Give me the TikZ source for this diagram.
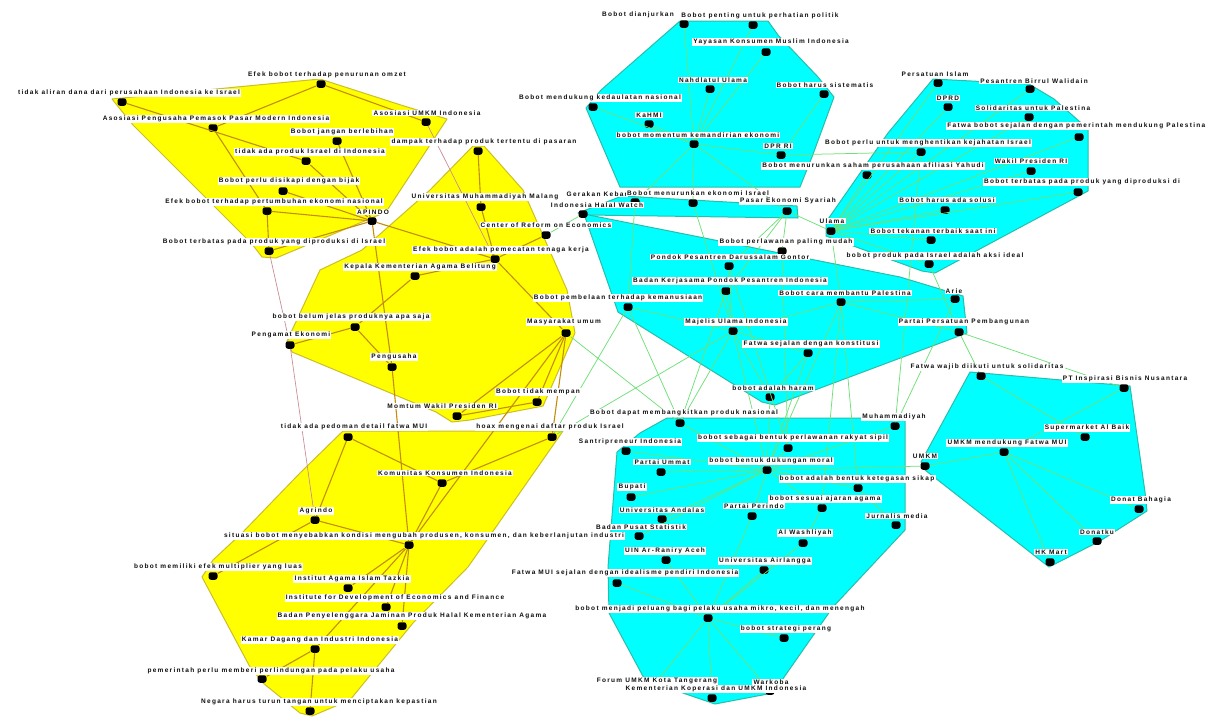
\documentclass[tikz,border=0pt]{standalone}
\usepackage{fontspec}
\setmainfont{Liberation Sans}[LetterSpace=20]
\definecolor{yfillc}{RGB}{255,255,0}
\definecolor{ylinec}{RGB}{205,190,40}
\definecolor{yedgec}{RGB}{195,140,10}
\definecolor{pedgec}{RGB}{200,140,150}
\definecolor{cfillc}{RGB}{0,255,255}
\definecolor{clinec}{RGB}{40,190,170}
\definecolor{gedgec}{RGB}{110,225,120}
\definecolor{txt}{RGB}{15,15,15}
\tikzset{
 vdot/.style={draw=none, fill=black, rounded corners=2.5pt, minimum width=9pt, minimum height=7.5pt, inner sep=0pt},
 lbl/.style={fill=white, inner xsep=1.2pt, inner ysep=1pt, font=\bfseries\fontsize{6.5}{7}\selectfont, text=txt},
 yedge/.style={draw=yedgec, line width=1.1pt},
 pedge/.style={draw=pedgec, line width=0.7pt},
 gedge/.style={draw=gedgec, line width=0.75pt},
 ypoly/.style={fill=yfillc, draw=ylinec, line width=1pt, line join=round},
 cpoly/.style={fill=cfillc, draw=clinec, line width=1pt, line join=round},
}
\begin{document}
\begin{tikzpicture}[x=1pt,y=-1pt]
\useasboundingbox (0,0) rectangle (1211,716);
\clip (0,0) rectangle (1211,716);
% ---------- cluster areas ----------
\path[ypoly] (112,99) -- (320,79) -- (404,106) -- (447,119) -- (386,212) -- (276,258) -- (262,257) -- (252,244) -- (133,125) -- cycle;
\path[ypoly] (473,146) -- (484,146) -- (523,190) -- (567,290) -- (575,333) -- (543,406) -- (470,420) -- (452,422) -- (436,412) -- (292,352) -- (287,341) -- (320,270) -- (362,250) -- (430,190) -- cycle;
\path[ypoly] (343,431) -- (563,431) -- (468,567) -- (413,623) -- (350,700) -- (312,716) -- (300,713) -- (263,683) -- (250,667) -- (202,577) -- (213,560) -- (243,532) -- (300,473) -- cycle;
\path[cpoly] (680,21) -- (768,21) -- (778,35) -- (818,77) -- (834,97) -- (812,157) -- (800,187) -- (620,187) -- (586,108) -- (601,90) -- cycle;
\path[cpoly] (578,213) -- (622,196) -- (797,206) -- (798,218) -- (588,215) -- cycle;
\path[cpoly] (584,214) -- (900,277) -- (963,296) -- (967,333) -- (775,405) -- (762,402) -- (618,312) -- cycle;
\path[cpoly] (933,79) -- (1029,84) -- (1054,99) -- (1088,129) -- (1088,191) -- (935,273) -- (922,271) -- (826,236) -- (826,222) -- (888,133) -- cycle;
\path[cpoly] (970,372) -- (1130,386) -- (1145,492) -- (1147,511) -- (1100,541) -- (1049,567) -- (925,470) -- (921,462) -- cycle;
\path[cpoly] (667,418) -- (905,418) -- (905,530) -- (833,607) -- (773,693) -- (715,704) -- (645,680) -- (609,613) -- (608,567) -- (617,452) -- (640,433) -- cycle;
% ---------- dots ----------
\node[vdot] (y1) at (321,84) {};
\node[vdot] (y2) at (122,102) {};
\node[vdot] (y3) at (213,128) {};
\node[vdot] (y4) at (426,122) {};
\node[vdot] (y5) at (337,141) {};
\node[vdot] (y6) at (306,161) {};
\node[vdot] (y7) at (283,191) {};
\node[vdot] (y8) at (267,211) {};
\node[vdot] (y9) at (372,221) {};
\node[vdot] (y10) at (269,251) {};
\node[vdot] (y11) at (478,151) {};
\node[vdot] (y12) at (481,207) {};
\node[vdot] (y13) at (546,235) {};
\node[vdot] (y14) at (495,259) {};
\node[vdot] (y15) at (415,276) {};
\node[vdot] (y16) at (355,327) {};
\node[vdot] (y17) at (290,345) {};
\node[vdot] (y18) at (392,367) {};
\node[vdot] (y19) at (566,333) {};
\node[vdot] (y20) at (537,402) {};
\node[vdot] (y21) at (457,416) {};
\node[vdot] (y22) at (348,437) {};
\node[vdot] (y23) at (552,437) {};
\node[vdot] (y24) at (442,483) {};
\node[vdot] (y25) at (315,520) {};
\node[vdot] (y26) at (409,545) {};
\node[vdot] (y27) at (213,576) {};
\node[vdot] (y28) at (348,588) {};
\node[vdot] (y29) at (386,607) {};
\node[vdot] (y30) at (402,626) {};
\node[vdot] (y31) at (315,649) {};
\node[vdot] (y32) at (262,679) {};
\node[vdot] (y33) at (310,711) {};
\node[vdot] (c1) at (684,24) {};
\node[vdot] (c2) at (753,25) {};
\node[vdot] (c3) at (766,52) {};
\node[vdot] (c4) at (710,89) {};
\node[vdot] (c5) at (824,94) {};
\node[vdot] (c6) at (593,107) {};
\node[vdot] (c7) at (649,124) {};
\node[vdot] (c8) at (694,144) {};
\node[vdot] (c9) at (781,155) {};
\node[vdot] (c10) at (635,202) {};
\node[vdot] (c11) at (583,214) {};
\node[vdot] (c12) at (693,203) {};
\node[vdot] (c13) at (787,211) {};
\node[vdot] (c14) at (938,83) {};
\node[vdot] (c15) at (1030,89) {};
\node[vdot] (c16) at (948,107) {};
\node[vdot] (c17) at (1029,117) {};
\node[vdot] (c18) at (1079,137) {};
\node[vdot] (c19) at (1031,171) {};
\node[vdot] (c20) at (1078,192) {};
\node[vdot] (c21) at (945,210) {};
\node[vdot] (c22) at (931,240) {};
\node[vdot] (c23) at (929,264) {};
\node[vdot] (c24) at (831,231) {};
\node[vdot] (c25) at (867,175) {};
\node[vdot] (c26) at (921,152) {};
\node[vdot] (c27) at (782,251) {};
\node[vdot] (c28) at (729,266) {};
\node[vdot] (c29) at (726,291) {};
\node[vdot] (c30) at (628,307) {};
\node[vdot] (c31) at (841,302) {};
\node[vdot] (c32) at (955,299) {};
\node[vdot] (c33) at (959,332) {};
\node[vdot] (c34) at (733,331) {};
\node[vdot] (c35) at (808,353) {};
\node[vdot] (c36) at (770,397) {};
\node[vdot] (c37) at (981,376) {};
\node[vdot] (c38) at (1124,388) {};
\node[vdot] (c39) at (1085,437) {};
\node[vdot] (c40) at (1004,452) {};
\node[vdot] (c41) at (925,466) {};
\node[vdot] (c42) at (1139,509) {};
\node[vdot] (c43) at (1097,541) {};
\node[vdot] (c44) at (1050,562) {};
\node[vdot] (c45) at (680,423) {};
\node[vdot] (c46) at (895,426) {};
\node[vdot] (c47) at (626,451) {};
\node[vdot] (c48) at (788,448) {};
\node[vdot] (c49) at (661,472) {};
\node[vdot] (c50) at (767,470) {};
\node[vdot] (c51) at (858,488) {};
\node[vdot] (c52) at (631,497) {};
\node[vdot] (c53) at (822,508) {};
\node[vdot] (c54) at (752,516) {};
\node[vdot] (c55) at (662,519) {};
\node[vdot] (c56) at (896,525) {};
\node[vdot] (c57) at (639,536) {};
\node[vdot] (c58) at (803,543) {};
\node[vdot] (c59) at (666,560) {};
\node[vdot] (c60) at (764,570) {};
\node[vdot] (c61) at (617,583) {};
\node[vdot] (c62) at (708,618) {};
\node[vdot] (c63) at (784,638) {};
\node[vdot] (c65) at (770,691) {};
\node[vdot] (c66) at (712,698) {};
% ---------- connectors ----------
\foreach \a/\b in {y2/y6,y1/y3,y1/y4,y3/y8,y8/y9,y8/y10,y7/y9,y10/y9,y6/y9,y5/y9,y9/y14,y9/y18,
 y11/y12,y12/y14,y13/y14,y15/y14,y15/y16,y16/y17,y16/y18,y14/y19,y19/y20,y19/y21,y21/y20,y19/y26,y19/y23,
 y22/y25,y22/y24,y18/y26,y25/y26,y25/y27,y24/y26,y24/y23,y26/y28,y26/y29,y26/y30,y26/y31,y31/y32,y31/y33}
 \draw[yedge] (\a) -- (\b);
\foreach \a/\b in {y4/y14,y10/y17,y17/y25}
 \draw[pedge] (\a) -- (\b);
\foreach \a/\b in {c1/c8,c2/c8,c3/c8,c4/c8,c5/c9,c6/c8,c7/c8,c9/c8,c8/c10,c8/c12,c8/c13,c9/c26,
 c24/c14,c24/c16,c24/c17,c24/c18,c24/c19,c24/c20,c24/c21,c24/c22,c24/c23,c24/c25,c24/c26,c24/c15,c13/c24,
 c13/c27,c13/c28,c13/c29,c10/c30,c12/c34,c34/c29,c34/c30,c34/c35,c34/c36,c34/c31,c34/c28,c31/c32,c31/c33,c35/c36,
 c27/c48,c31/c53,c31/c51,c34/c50,c34/c45,c30/c45,c35/c50,c36/c50,c29/c45,c31/c50,c28/c48,c24/c31,c23/c33,c32/c46,
 y19/c45,y23/c30,y13/c11,y23/c34,c26/c46,
 c37/c39,c38/c40,c33/c37,c33/c38,c40/c41,c40/c44,c40/c43,c40/c42,c41/c50,
 c50/c45,c50/c47,c50/c49,c50/c52,c50/c55,c50/c57,c50/c54,c50/c53,c50/c51,c50/c48,c50/c46,c53/c58,c51/c56,
 c62/c54,c62/c59,c62/c60,c62/c61,c62/c63,c62/c65,c62/c66,c62/c58}
 \draw[gedge] (\a) -- (\b);
% ---------- labels ----------
\node[lbl] (y1l) at (327,75) {Efek bobot terhadap penurunan omzet};
\node[lbl] (y2l) at (129,93) {tidak aliran dana dari perusahaan Indonesia ke Israel};
\node[lbl] (y3l) at (216,119) {Asosiasi Pengusaha Pemasok Pasar Modern Indonesia};
\node[lbl] (y4l) at (427,113) {Asosiasi UMKM Indonesia};
\node[lbl] (y5l) at (342,132) {Bobot jangan berlebihan};
\node[lbl] (y6l) at (310,152) {tidak ada produk Israel di Indonesia};
\node[lbl] (y7l) at (289,181) {Bobot perlu disikapi dengan bijak};
\node[lbl] (y8l) at (274,202) {Efek bobot terhadap pertumbuhan ekonomi nasional};
\node[lbl] (y9l) at (373,212) {APINDO};
\node[lbl] (y10l) at (274,242) {Bobot terbatas pada produk yang diproduksi di Israel};
\node[lbl] (y11l) at (484,142) {dampak terhadap produk tertentu di pasaran};
\node[lbl] (y12l) at (485,197) {Universitas Muhammadiyah Malang};
\node[lbl] (y14l) at (501,250) {Efek bobot adalah pemecatan tenaga kerja};
\node[lbl] (y15l) at (420,267) {Kepala Kementerian Agama Belitung};
\node[lbl] (y16l) at (351,317) {bobot belum jelas produknya apa saja};
\node[lbl] (y17l) at (291,335) {Pengamat Ekonomi};
\node[lbl] (y18l) at (394,357) {Pengusaha};
\node[lbl] (y20l) at (538,392) {Bobot tidak mempan};
\node[lbl] (y21l) at (442,406) {Momtum Wakil Presiden RI};
\node[lbl] (y22l) at (354,427) {tidak ada pedoman detail fatwa MUI};
\node[lbl] (y23l) at (550,427) {hoax mengenai daftar produk Israel};
\node[lbl] (y24l) at (445,473) {Komunitas Konsumen Indonesia};
\node[lbl] (y25l) at (316,511) {Agrindo};
\node[lbl] (y27l) at (218,567) {bobot memiliki efek multiplier yang luas};
\node[lbl] (y28l) at (352,579) {Institut Agama Islam Tazkia};
\node[lbl] (y29l) at (395,598) {Institute for Development of Economics and Finance};
\node[lbl] (y30l) at (412,616) {Badan Penyelenggara Jaminan Produk Halal Kementerian Agama};
\node[lbl] (y31l) at (320,640) {Kamar Dagang dan Industri Indonesia};
\node[lbl] (y32l) at (271,671) {pemerintah perlu memberi perlindungan pada pelaku usaha};
\node[lbl] (y33l) at (319,702) {Negara harus turun tangan untuk menciptakan kepastian};
\node[lbl] (c1l) at (638,15) {Bobot dianjurkan};
\node[lbl] (c2l) at (760,16) {Bobot penting untuk perhatian politik};
\node[lbl] (c3l) at (771,42) {Yayasan Konsumen Muslim Indonesia};
\node[lbl] (c4l) at (713,80) {Nahdlatul Ulama};
\node[lbl] (c5l) at (825,85) {Bobot harus sistematis};
\node[lbl] (c6l) at (600,98) {Bobot mendukung kedaulatan nasional};
\node[lbl] (c7l) at (649,115) {KaHMI};
\node[lbl] (c8l) at (698,135) {bobot momentum kemandirian ekonomi};
\node[lbl] (c9l) at (778,146) {DPR RI};
\node[lbl] (c10l) at (597,194) {Gerakan Kebar};
\node[lbl] (c11l) at (597,205) {Indonesia Halal Watch};
\node[lbl] (c12l) at (698,193) {Bobot menurunkan ekonomi Israel};
\node[lbl] (c13l) at (788,201) {Pasar Ekonomi Syariah};
\node[lbl] (c14l) at (935,74) {Persatuan Islam};
\node[lbl] (c15l) at (1034,81) {Pesantren Birrul Walidain};
\node[lbl] (c16l) at (948,98) {DPRD};
\node[lbl] (c17l) at (1033,108) {Solidaritas untuk Palestina};
\node[lbl, anchor=west] (c18l) at (946,126) {Fatwa bobot sejalan dengan pemerintah mendukung Palestina};
\node[lbl] (c26l) at (928,143) {Bobot perlu untuk menghentikan kejahatan Israel};
\node[lbl] (c25l) at (873,166) {Bobot menurunkan saham perusahaan afiliasi Yahudi};
\node[lbl] (c19l) at (1031,161) {Wakil Presiden RI};
\node[lbl] (c20l) at (1082,182) {Bobot terbatas pada produk yang diproduksi di};
\node[lbl] (c21l) at (947,200) {Bobot harus ada solusi};
\node[lbl] (c24l) at (832,221) {Ulama};
\node[lbl] (c22l) at (933,231) {Bobot tekanan terbaik saat ini};
\node[lbl] (c13bl) at (546,225) {Center of Reform on Economics};
\node[lbl] (c27l) at (786,242) {Bobot perlawanan paling mudah};
\node[lbl] (c23l) at (935,256) {bobot produk pada Israel adalah aksi ideal};
\node[lbl] (c28l) at (730,257) {Pondok Pesantren Darussalam Gontor};
\node[lbl] (c29l) at (730,281) {Badan Kerjasama Pondok Pesantren Indonesia};
\node[lbl] (c32l) at (954,291) {Arie};
\node[lbl] (c31l) at (845,293) {Bobot cara membantu Palestina};
\node[lbl] (c30l) at (618,298) {Bobot pembelaan terhadap kemanusiaan};
\node[lbl] (y19l) at (564,322) {Masyarakat umum};
\node[lbl] (c34l) at (736,322) {Majelis Ulama Indonesia};
\node[lbl] (c33l) at (964,322) {Partai Persatuan Pembangunan};
\node[lbl] (c35l) at (811,344) {Fatwa sejalan dengan konstitusi};
\node[lbl] (c37l) at (987,367) {Fatwa wajib diikuti untuk solidaritas};
\node[lbl] (c38l) at (1125,379) {PT Inspirasi Bisnis Nusantara};
\node[lbl] (c36l) at (773,388) {bobot adalah haram};
\node[lbl] (c45l) at (684,413) {Bobot dapat membangkitkan produk nasional};
\node[lbl] (c46l) at (894,417) {Muhammadiyah};
\node[lbl] (c39l) at (1087,428) {Supermarket Al Baik};
\node[lbl] (c48l) at (793,438) {bobot sebagai bentuk perlawanan rakyat sipil};
\node[lbl] (c47l) at (630,442) {Santripreneur Indonesia};
\node[lbl] (c40l) at (1007,443) {UMKM mendukung Fatwa MUI};
\node[lbl] (c41l) at (925,456) {UMKM};
\node[lbl] (c50l) at (771,461) {bobot bentuk dukungan moral};
\node[lbl] (c49l) at (662,462) {Partai Ummat};
\node[lbl] (c51l) at (857,479) {bobot adalah bentuk ketegasan sikap};
\node[lbl] (c52l) at (632,487) {Bupati};
\node[lbl] (c53l) at (825,499) {bobot sesuai ajaran agama};
\node[lbl] (c42l) at (1141,500) {Donat Bahagia};
\node[lbl] (c54l) at (754,506) {Partai Perindo};
\node[lbl] (c55l) at (662,510) {Universitas Andalas};
\node[lbl] (c56l) at (897,516) {Jurnalis media};
\node[lbl] (c57l) at (641,527) {Badan Pusat Statistik};
\node[lbl] (y26l) at (424,536) {situasi bobot menyebabkan kondisi mengubah produsen, konsumen, dan keberlanjutan industri};
\node[lbl] (c43l) at (1097,532) {Donatku};
\node[lbl] (c58l) at (805,533) {Al Washliyah};
\node[lbl] (c59l) at (665,551) {UIN Ar-Raniry Aceh};
\node[lbl] (c44l) at (1051,552) {HK Mart};
\node[lbl] (c60l) at (765,561) {Universitas Airlangga};
\node[lbl] (c61l) at (625,573) {Fatwa MUI sejalan dengan idealisme pendiri Indonesia};
\node[lbl] (c62l) at (720,609) {bobot menjadi peluang bagi pelaku usaha mikro, kecil, dan menengah};
\node[lbl] (c63l) at (786,629) {bobot strategi perang};
\node[lbl] (c64) at (657,681) {Forum UMKM Kota Tangerang};
\node[lbl] (c65l) at (771,682) {Warkoba};
\node[lbl] (c66l) at (716,689) {Kementerian Koperasi dan UMKM Indonesia};
\draw[gedge] (c62) -- (c64);
\end{tikzpicture}
\end{document}
